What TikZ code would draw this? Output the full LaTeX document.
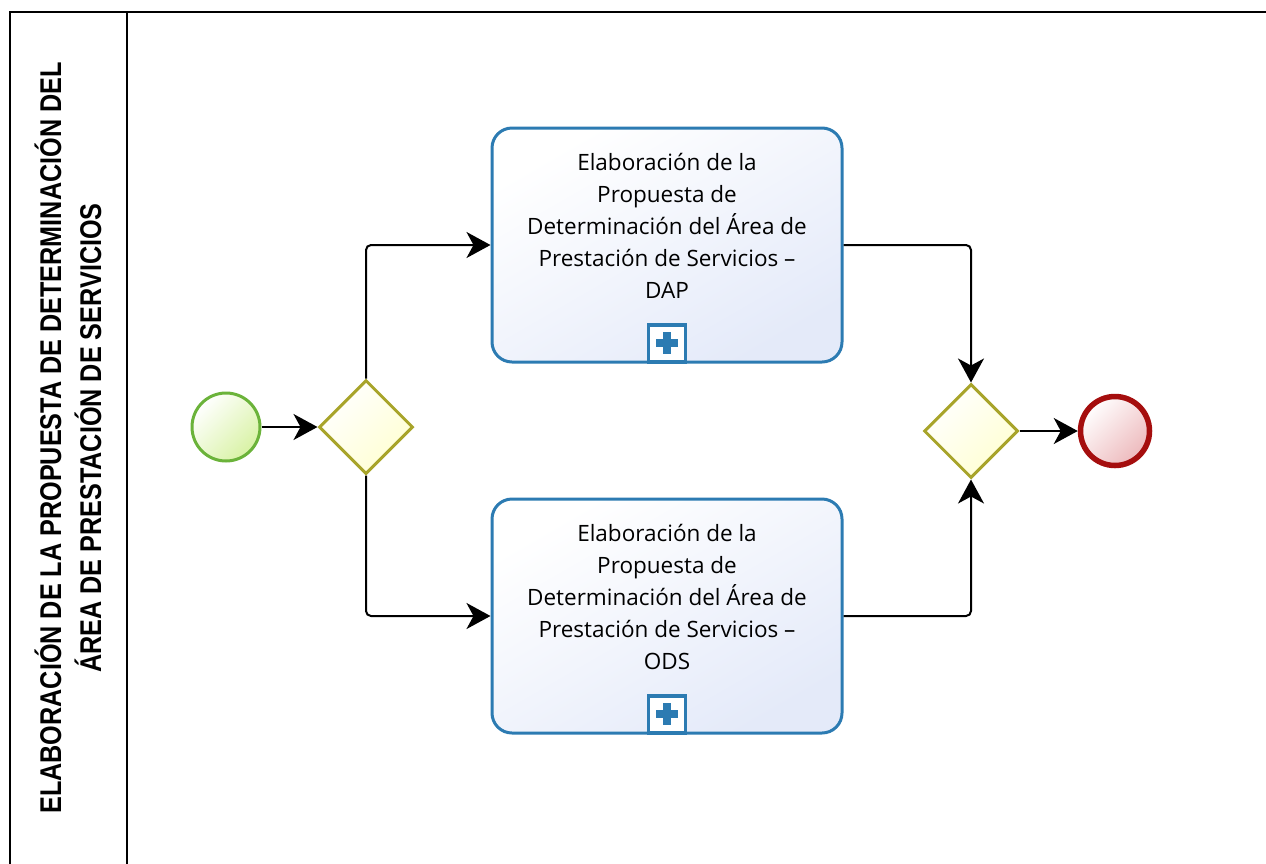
\documentclass[tikz,border=0pt]{standalone}
\usepackage{fontspec}
\setmainfont{Open Sans}
\newfontfamily\lanefont[FakeStretch=0.84]{Liberation Sans}
\usepackage{tikz}
\usetikzlibrary{arrows.meta,shapes.geometric}
\definecolor{taskline}{HTML}{2C7BB2}
\definecolor{taskfill}{HTML}{E4EAF9}
\definecolor{gateline}{HTML}{A8A42A}
\definecolor{gatefill}{HTML}{FFFFD2}
\definecolor{startline}{HTML}{6BB33A}
\definecolor{startfill}{HTML}{D8F2A4}
\definecolor{endline}{HTML}{A50E0E}
\definecolor{endfill}{HTML}{EDB9BC}
\tikzset{
  lane/.style={draw=black, line width=2pt},
  lanelab/.style={font=\fontsize{30}{40}\selectfont\lanefont\bfseries, align=center, rotate=90},
  task/.style={draw=taskline, line width=3pt, rounded corners=20pt, minimum width=350pt, minimum height=234pt, top color=white, bottom color=taskfill, shading angle=30},
  tasklab/.style={font=\fontsize{22.5}{32}\selectfont, align=center},
  subproc/.style={draw=taskline, line width=3.5pt, fill=white, minimum size=37pt, inner sep=0pt},
  plusmark/.style={draw=taskline, line width=8pt},
  gate/.style={diamond, draw=gateline, line width=3pt, minimum width=94pt, minimum height=94pt, inner sep=0pt, top color=white, bottom color=gatefill, shading angle=45},
  startev/.style={circle, draw=startline, line width=3pt, minimum size=68pt, inner sep=0pt, top color=white, bottom color=startfill, shading angle=45},
  endev/.style={circle, draw=endline, line width=5.5pt, minimum size=69pt, inner sep=0pt, top color=white, bottom color=endfill, shading angle=45},
  flow/.style={draw=black, line width=2pt, rounded corners=5pt, -{Stealth[length=24pt, width=26pt, inset=7pt]}},
}
\begin{document}
\begin{tikzpicture}[x=1pt, y=-1pt]
  \useasboundingbox (0,0) rectangle (1266,863);
  \clip (0,0) rectangle (1266,863);

  % pool and lane header
  \draw[lane] (10,12) rectangle (1300,900);
  \draw[lane] (127,12) -- (127,900);
  \node[lanelab] (lanetitle) at (68,438) {ELABORACIÓN DE LA PROPUESTA DE DETERMINACIÓN DEL\\ÁREA DE PRESTACIÓN DE SERVICIOS};

  \node[startev] (start) at (226,427) {};
  \node[gate] (split) at (366,427) {};
  \node[task] (dap) at (667,245) {};
  \node[task] (ods) at (667,616) {};
  \node[gate] (join) at (971,431) {};
  \node[endev] (finish) at (1115,431) {};

  \node[tasklab] (daplab) at (667,226) {Elaboración de la\\Propuesta de\\Determinación del Área de\\Prestación de Servicios --\\DAP};
  \node[tasklab] (odslab) at (667,597) {Elaboración de la\\Propuesta de\\Determinación del Área de\\Prestación de Servicios --\\ODS};

  % collapsed sub-process markers
  \node[subproc, anchor=south] (dapplus) at (dap.south) {};
  \node[subproc, anchor=south] (odsplus) at (ods.south) {};
  \draw[plusmark] (dapplus.center) ++(-11,0) -- ++(22,0) (dapplus.center) ++(0,-11) -- ++(0,22);
  \draw[plusmark] (odsplus.center) ++(-11,0) -- ++(22,0) (odsplus.center) ++(0,-11) -- ++(0,22);

  \draw[flow] (start) -- (split);
  \draw[flow] (split.north) |- (dap.west);
  \draw[flow] (split.south) |- (ods.west);
  \draw[flow] (dap.east) -| (join.north);
  \draw[flow] (ods.east) -| (join.south);
  \draw[flow] (join) -- (finish);
\end{tikzpicture}
\end{document}
